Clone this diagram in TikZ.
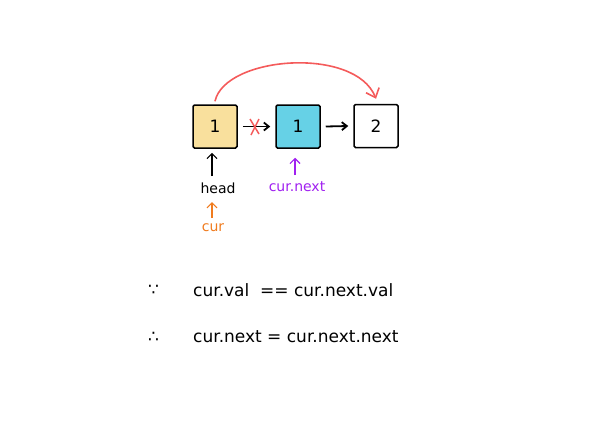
\documentclass[tikz,border=0pt]{standalone}
\usepackage{fontspec}
\setmainfont{DejaVu Sans}
\usetikzlibrary{arrows.meta}
\definecolor{boxyellow}{HTML}{F9E09D}
\definecolor{boxcyan}{HTML}{66D1E6}
\definecolor{redline}{HTML}{F45B5B}
\definecolor{orangec}{HTML}{F07B1E}
\definecolor{purplec}{HTML}{A020F0}
\tikzset{
  x=1pt,y=-1pt,
  listbox/.style={draw=black,line width=1.5pt,rounded corners=1.5pt,minimum width=44pt,minimum height=43pt,inner sep=0pt,font=\fontsize{17}{17}\selectfont},
  link/.style={-{Straight Barb[length=5pt,width=8pt]},line width=1.8pt},
  ptr/.style={-{Straight Barb[length=5pt,width=10pt]},line width=1.2pt},
  lbl/.style={inner sep=1pt,font=\fontsize{14}{14}\selectfont},
  eq/.style={anchor=west,inner sep=0pt,font=\fontsize{17}{17}\selectfont}
}
\begin{document}
\begin{tikzpicture}
\useasboundingbox (0,0) rectangle (599,426);
\node[listbox,fill=boxyellow] (n1) at (215,126.5) {1};
\node[listbox,fill=boxcyan] (n2) at (298,126.5) {1};
\node[listbox,fill=white] (n3) at (376,126) {2};
\draw[link] ([xshift=5pt]n1.east) -- ([xshift=-5pt]n2.west);
\draw[link] ([xshift=5pt]n2.east) -- ([xshift=-5pt]n3.west);
\draw[redline,line width=1.5pt] (250,119) -- (259,134) (259,119) -- (251,135);
\draw[redline,line width=1.6pt,-{Straight Barb[length=8pt,width=14pt]}] ([yshift=3pt]n1.north) .. controls (225,56) and (355,46) .. ([yshift=5pt]n3.north);
% pointers
\node[lbl] (head) at (218,188) {head};
\node[lbl,text=orangec] (cur) at (213,228) {cur};
\node[lbl,text=purplec] (curnext) at (297,187) {cur.next};
\coordinate (hb) at (212,176);
\draw[ptr] (hb) -- ([yshift=-4pt]n1.south -| hb);
\coordinate (cb) at (212,218);
\coordinate (ct) at (212,202);
\draw[ptr,orangec] (cb) -- (ct);
\coordinate (pb) at (295,175);
\draw[ptr,purplec] (pb) -- ([yshift=-9pt]n2.south -| pb);
% equations
\node[eq] (because) at (148,290) {∵};
\node[eq] (l1) at (193,290) {cur.val \ == cur.next.val};
\node[eq] (therefore) at (148,337) {∴};
\node[eq] (l2) at (193,337) {cur.next = cur.next.next};
\end{tikzpicture}
\end{document}
